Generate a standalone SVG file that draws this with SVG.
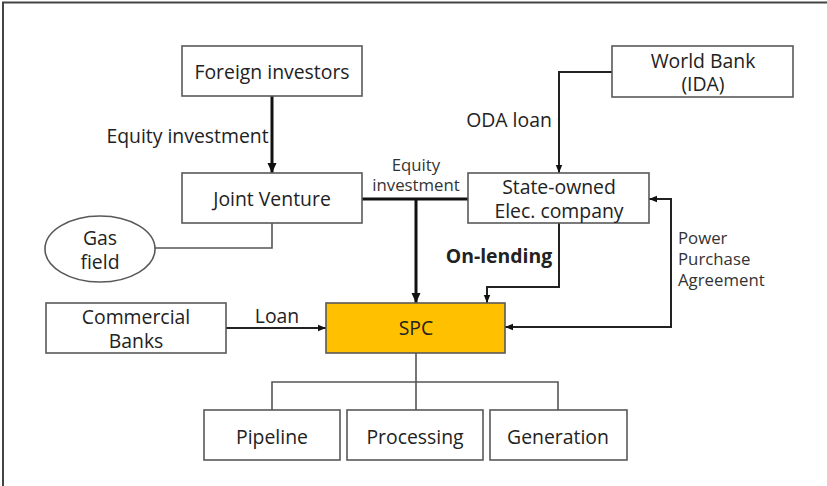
<svg xmlns="http://www.w3.org/2000/svg" width="827" height="486" viewBox="0 0 827 486">
  <style>
    .box { fill: #ffffff; stroke: #595959; stroke-width: 1.6; }
    .spc { fill: #ffc000; stroke: #595959; stroke-width: 1.6; }
    .t { font-family: "Open Sans", "Noto Sans", "DejaVu Sans", sans-serif; font-size: 19.4px; fill: #222; text-anchor: middle; }
    .s { font-family: "Open Sans", "Noto Sans", "DejaVu Sans", sans-serif; font-size: 16.8px; fill: #333; }
    .b { font-weight: bold; }
    .thick { fill: none; stroke: #111; stroke-width: 3; }
    .thin { fill: none; stroke: #222; stroke-width: 2; }
    .tree { fill: none; stroke: #555; stroke-width: 1.6; }
  </style>
  <defs>
    <marker id="headBig" markerUnits="userSpaceOnUse" markerWidth="10" markerHeight="10" viewBox="0 0 10 10" refX="10" refY="5" orient="auto">
      <path d="M0,0.5 L10,5 L0,9.5 Z" fill="#111"/>
    </marker>
    <marker id="headSmall" markerUnits="userSpaceOnUse" markerWidth="8" markerHeight="8" viewBox="0 0 10 10" refX="10" refY="5" orient="auto-start-reverse">
      <path d="M0,1 L10,5 L0,9 Z" fill="#111"/>
    </marker>
  </defs>

  <!-- frame edges -->
  <path d="M3,486 V2.5 H827" fill="none" stroke="#444" stroke-width="2"/>

  <!-- connectors -->
  <g id="connectors">
    <path class="thick" d="M272,96 V173" marker-end="url(#headBig)"/>
    <path class="thick" d="M362,199 H468"/>
    <path class="thick" d="M416,199 V303" marker-end="url(#headBig)"/>
    <path class="thin" d="M612,72 H559 V173" marker-end="url(#headSmall)"/>
    <path class="thin" d="M559,223 V287 H487 V303" marker-end="url(#headSmall)"/>
    <path class="thin" d="M505,327 H671 V199 H649" marker-start="url(#headSmall)" marker-end="url(#headSmall)"/>
    <path class="thin" d="M226,328 H326" marker-end="url(#headSmall)"/>
    <path class="tree" d="M155,248 H272 V223"/>
    <path class="tree" d="M416,353 V410 M272,410 V382 H558 V410"/>
  </g>

  <!-- connector labels -->
  <g id="labels">
    <text class="t" x="187.5" y="143">Equity investment</text>
    <text class="t" x="509" y="127">ODA loan</text>
    <text class="s" x="416" y="171" text-anchor="middle">Equity</text>
    <text class="s" x="416" y="191" text-anchor="middle">investment</text>
    <text class="t b" x="499" y="263">On-lending</text>
    <text class="s" x="678" y="244">Power</text>
    <text class="s" x="678" y="265">Purchase</text>
    <text class="s" x="678" y="286">Agreement</text>
    <text class="t" x="277" y="323">Loan</text>
  </g>

  <g id="foreign-investors">
    <rect class="box" x="182" y="46" width="180" height="50"/>
    <text class="t" x="272" y="79">Foreign investors</text>
  </g>
  <g id="world-bank">
    <rect class="box" x="612" y="46" width="181" height="51"/>
    <text class="t" x="703" y="68">World Bank</text>
    <text class="t" x="703" y="91">(IDA)</text>
  </g>
  <g id="joint-venture">
    <rect class="box" x="182" y="173" width="180" height="50"/>
    <text class="t" x="272" y="206">Joint Venture</text>
  </g>
  <g id="state-owned">
    <rect class="box" x="468" y="173" width="181" height="50"/>
    <text class="t" x="559" y="194">State-owned</text>
    <text class="t" x="559" y="218">Elec. company</text>
  </g>
  <g id="gas-field">
    <ellipse class="box" cx="100" cy="249" rx="55" ry="33"/>
    <text class="t" x="100" y="245">Gas</text>
    <text class="t" x="100" y="269">field</text>
  </g>
  <g id="commercial-banks">
    <rect class="box" x="46" y="303" width="180" height="50"/>
    <text class="t" x="136" y="324">Commercial</text>
    <text class="t" x="136" y="348">Banks</text>
  </g>
  <g id="spc">
    <rect class="spc" x="326" y="303" width="179" height="50"/>
    <text class="t" x="416" y="335">SPC</text>
  </g>
  <g id="pipeline">
    <rect class="box" x="204" y="410" width="136" height="50"/>
    <text class="t" x="272" y="444">Pipeline</text>
  </g>
  <g id="processing">
    <rect class="box" x="347" y="410" width="136" height="50"/>
    <text class="t" x="415" y="444">Processing</text>
  </g>
  <g id="generation">
    <rect class="box" x="490" y="410" width="137" height="50"/>
    <text class="t" x="558" y="444">Generation</text>
  </g>
</svg>
